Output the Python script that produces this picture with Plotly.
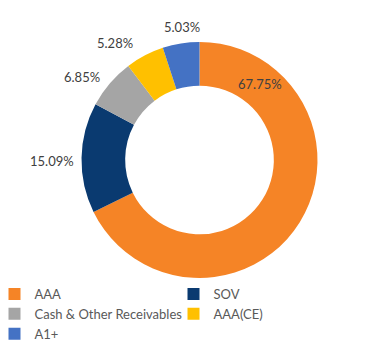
import plotly.graph_objects as go

labels = ["AAA", "SOV", "Cash & Other Receivables", "AAA(CE)", "A1+"]
values = [67.75, 15.09, 6.85, 5.28, 5.03]
colors = ["#F58426", "#0A3A70", "#A5A5A5", "#FFC000", "#4472C4"]

# data-label anchor positions (pixels from top-left of the 369x355 canvas)
label_px = [(260, 84), (51.5, 161), (82, 77), (115, 43), (182, 27)]

W, H = 369, 355
MB = 76                 # bottom margin holding the legend
PH = H - MB             # plot-area height
cx, cy, r = 199.5, 160, 118

fig = go.Figure(go.Pie(
    labels=labels,
    values=values,
    sort=False,
    direction="clockwise",
    rotation=0,
    hole=0.63,
    marker=dict(colors=colors, line=dict(width=0)),
    textinfo="none",
    hoverinfo="label+percent",
    domain=dict(x=[(cx - r) / W, (cx + r) / W],
                y=[(PH - cy - r) / PH, (PH - cy + r) / PH]),
    automargin=False,
))

for v, (px, py) in zip(values, label_px):
    fig.add_annotation(
        x=px / W, y=(PH - py) / PH, xref="paper", yref="paper",
        text=f"{v:.2f}%", showarrow=False,
        xanchor="center", yanchor="middle",
        font=dict(family="Lato", size=13, color="#404040"),
    )

fig.update_layout(
    width=W, height=H,
    margin=dict(l=0, r=0, t=0, b=MB, autoexpand=False),
    paper_bgcolor="white",
    plot_bgcolor="white",
    showlegend=True,
    legend=dict(
        orientation="h",
        x=-5.5 / W, xanchor="left",
        y=0, yanchor="top",
        entrywidth=134, entrywidthmode="pixels",
        font=dict(family="Lato", size=13, color="#595959"),
        tracegroupgap=0,
        bgcolor="rgba(0,0,0,0)",
    ),
)

fig.write_html(
    "out.html",
    config={"displayModeBar": False},
    post_script="document.body.style.margin='0';document.body.style.overflow='hidden';",
)
